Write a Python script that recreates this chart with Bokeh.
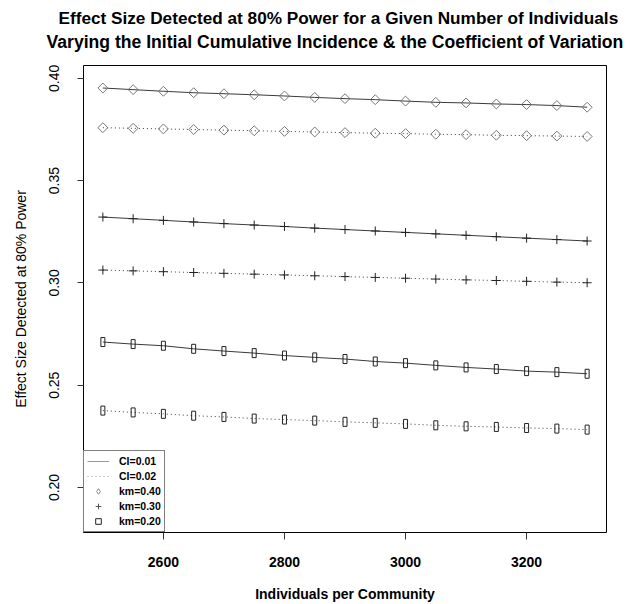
import math
from bokeh.plotting import figure
from bokeh.models import Legend, LegendItem, FixedTicker, PrintfTickFormatter, Range1d, Title
from bokeh.embed import file_html
from bokeh.resources import INLINE

# ---- data ----
individuals = [2500, 2550, 2600, 2650, 2700, 2750, 2800, 2850, 2900,
               2950, 3000, 3050, 3100, 3150, 3200, 3250, 3300]

ci01_km40 = [0.3953, 0.3945, 0.3937, 0.3930, 0.3925, 0.3920, 0.3914, 0.3907, 0.3901,
             0.3896, 0.3889, 0.3883, 0.3880, 0.3875, 0.3872, 0.3867, 0.3859]
ci02_km40 = [0.3759, 0.3756, 0.3753, 0.3750, 0.3747, 0.3744, 0.3741, 0.3738, 0.3735,
             0.3732, 0.3730, 0.3727, 0.3725, 0.3722, 0.3720, 0.3718, 0.3716]
ci01_km30 = [0.3322, 0.3314, 0.3306, 0.3298, 0.3290, 0.3283, 0.3276, 0.3268, 0.3261,
             0.3254, 0.3247, 0.3240, 0.3233, 0.3226, 0.3219, 0.3212, 0.3205]
ci02_km30 = [0.3063, 0.3059, 0.3055, 0.3051, 0.3047, 0.3043, 0.3039, 0.3035, 0.3031,
             0.3027, 0.3023, 0.3019, 0.3015, 0.3012, 0.3008, 0.3004, 0.3001]
ci01_km20 = [0.2711, 0.2701, 0.2693, 0.2678, 0.2667, 0.2657, 0.2645, 0.2636, 0.2628,
             0.2616, 0.2608, 0.2597, 0.2587, 0.2579, 0.2569, 0.2564, 0.2556]
ci02_km20 = [0.2376, 0.2367, 0.2360, 0.2351, 0.2345, 0.2337, 0.2332, 0.2327, 0.2321,
             0.2316, 0.2311, 0.2304, 0.2299, 0.2296, 0.2291, 0.2288, 0.2283]

x_ticks = [2600, 2800, 3000, 3200]
y_ticks = [0.20, 0.25, 0.30, 0.35, 0.40]

title_line1 = "Effect Size Detected at 80% Power for a Given Number of Individuals"
title_line2 = "Varying the Initial Cumulative Incidence & the Coefficient of Variation"
x_label = "Individuals per Community"
y_label = "Effect Size Detected at 80% Power"
legend_labels = ["CI=0.01", "CI=0.02", "km=0.40", "km=0.30", "km=0.20"]

FONT = "Liberation Sans"
LINE_COL = "#3a3a3a"
DIAMOND_COL = "#777777"
DARK_COL = "#222222"
NAN = float("nan")

p = figure(width=635, height=604, output_backend="svg", toolbar_location=None,
           x_range=Range1d(2468, 3332), y_range=Range1d(0.178, 0.4063),
           min_border_left=83, min_border_right=29, min_border_top=65,
           min_border_bottom=71)
p.title = None

p.background_fill_color = "white"
p.border_fill_color = "white"
p.outline_line_color = "black"
p.outline_line_width = 1
p.xgrid.visible = False
p.ygrid.visible = False

# title: spacer panel next to the frame, then line 2, then line 1
spacer = Title(text=" ", align="left", standoff=3.6, text_font=FONT,
               text_font_size="10px", text_color="white")
t2 = Title(text=title_line2, align="left", offset=-37, standoff=-6.8,
           text_font=FONT, text_font_size="17.6px", text_font_style="bold",
           text_color="black")
t1 = Title(text=title_line1, align="left", offset=-25, standoff=11,
           text_font=FONT, text_font_size="17.2px", text_font_style="bold",
           text_color="black")
p.add_layout(spacer, "above")
p.add_layout(t2, "above")
p.add_layout(t1, "above")

# axes
xa = p.xaxis[0]
xa.ticker = FixedTicker(ticks=x_ticks)
xa.axis_line_color = None
xa.major_tick_out = 7
xa.major_tick_in = 0
xa.minor_tick_line_color = None
xa.major_tick_line_color = "#333333"
xa.major_label_text_font = FONT
xa.major_label_text_font_size = "14px"
xa.major_label_text_font_style = "bold"
xa.major_label_text_color = "black"
xa.major_label_standoff = 17
xa.axis_label = x_label
xa.axis_label_text_font = FONT
xa.axis_label_text_font_size = "14px"
xa.axis_label_text_font_style = "bold"
xa.axis_label_text_color = "black"
xa.axis_label_standoff = 16

ya = p.yaxis[0]
ya.ticker = FixedTicker(ticks=y_ticks)
ya.formatter = PrintfTickFormatter(format="%.2f")
ya.axis_line_color = None
ya.major_tick_out = 6
ya.major_tick_in = 0
ya.minor_tick_line_color = None
ya.major_tick_line_color = "#333333"
ya.major_label_orientation = "vertical"
ya.major_label_text_font = FONT
ya.major_label_text_font_size = "14px"
ya.major_label_text_font_style = "normal"
ya.major_label_text_color = "black"
ya.major_label_standoff = 18
ya.axis_label = y_label
ya.axis_label_text_font = FONT
ya.axis_label_text_font_size = "14px"
ya.axis_label_text_font_style = "normal"
ya.axis_label_text_color = "black"
ya.axis_label_standoff = 18

# lines
for ys, dash in [(ci01_km40, "solid"), (ci02_km40, "1 3"),
                 (ci01_km30, "solid"), (ci02_km30, "1 3"),
                 (ci01_km20, "solid"), (ci02_km20, "1 3")]:
    p.line(individuals, ys, line_color=LINE_COL, line_width=1, line_dash=dash)

# markers
for ys in (ci01_km40, ci02_km40):
    p.scatter(individuals, ys, marker="square", angle=math.pi / 4, size=7,
              fill_color=None, line_color=DIAMOND_COL, line_width=1)
for ys in (ci01_km30, ci02_km30):
    p.scatter(individuals, ys, marker="cross", size=9,
              line_color=DARK_COL, line_width=1)
for ys in (ci01_km20, ci02_km20):
    p.rect(individuals, ys, width=4, height=9, width_units="screen",
           height_units="screen", fill_color=None, line_color=DARK_COL, line_width=1)

# legend proxies (a single NaN point: nothing drawn in the plot area)
lg_solid = p.line([NAN], [NAN], line_color="#999999", line_width=1)
lg_dot = p.line([NAN], [NAN], line_color="#999999", line_width=1, line_dash="1 3")
lg_dia = p.scatter([NAN], [NAN], marker="diamond", size=9,
                   fill_color=None, line_color="#888888")
lg_plus = p.scatter([NAN], [NAN], marker="cross", size=8, line_color="#555555")
lg_sq = p.scatter([NAN], [NAN], marker="square", size=5, fill_color=None,
                  line_color=DARK_COL)

legend = Legend(items=[LegendItem(label=lab, renderers=[r]) for lab, r in
                       zip(legend_labels, [lg_solid, lg_dot, lg_dia, lg_plus, lg_sq])],
                location=(0, 0), margin=0, padding=3, spacing=1,
                glyph_width=22, glyph_height=14, label_height=14, label_standoff=10,
                label_text_font=FONT, label_text_font_size="10.5px",
                label_text_font_style="bold", label_text_color="black",
                border_line_color="black", border_line_width=1,
                background_fill_color="white", background_fill_alpha=1.0)
p.add_layout(legend, "center")

open("out.html", "w").write(file_html(p, INLINE))
